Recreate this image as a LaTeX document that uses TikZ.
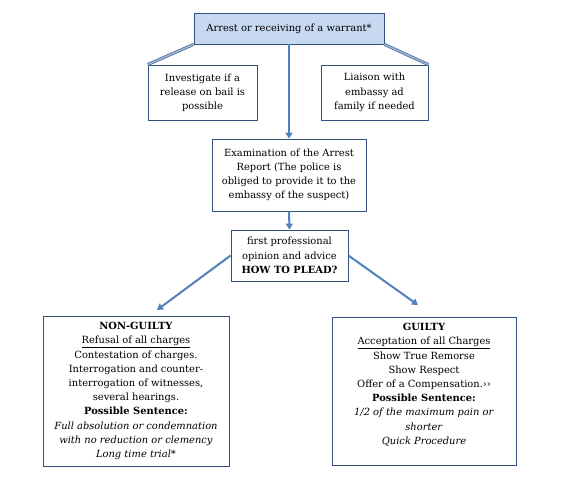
\documentclass[tikz,border=0pt]{standalone}
\usepackage{fontspec}
\setmainfont{DejaVu Serif}
\usetikzlibrary{arrows.meta}
\definecolor{boxline}{RGB}{50,80,125}
\definecolor{arrowblue}{RGB}{79,129,189}
\definecolor{topfill}{RGB}{198,217,241}
\definecolor{barfill}{RGB}{150,180,220}

\tikzset{
  box/.style={draw=boxline, line width=0.8pt, align=center, inner sep=2pt,
    font=\fontsize{9.9}{14.2}\selectfont},
  flow/.style={draw=arrowblue, line width=2pt,
    -{Triangle[width=7pt,length=6pt]}},
  bar/.style={draw=boxline!85, line width=0.7pt, double=barfill, double distance=1.6pt}
}

\begin{document}
\begin{tikzpicture}[x=1pt,y=-1pt]
    \useasboundingbox (0,0) rectangle (563,479);
    \fill[white] (0,0) rectangle (563,479);
    \node[box, fill=topfill, minimum width=190pt, minimum height=31pt] (arrest) at (289,28.5)
      {Arrest or receiving of a warrant*};
    \node[box, minimum width=109pt, minimum height=55pt] (bail) at (202.5,92.5)
      {Investigate if a\\release on bail is\\possible};
    \node[box, minimum width=107pt, minimum height=55pt] (embassy) at (374.5,92.5)
      {Liaison with\\embassy ad\\family if needed};
    \node[box, minimum width=154pt, minimum height=72pt] (report) at (289,175)
      {Examination of the Arrest\\Report (The police is\\obliged to provide it to the\\embassy of the suspect)};
    \node[box, minimum width=117pt, minimum height=51pt] (advice) at (289.5,255.5)
      {first professional\\opinion and advice\\\textbf{HOW TO PLEAD?}};
    \node[box, minimum width=186pt, minimum height=150pt] (nonguilty) at (136,391)
      {\textbf{NON-GUILTY}\\\underline{Refusal of all charges}\\Contestation of charges.\\
       Interrogation and counter-\\interrogation of witnesses,\\several hearings.\\
       \textbf{Possible Sentence:}\\\textit{Full absolution or condemnation}\\
       \textit{with no reduction or clemency}\\\textit{Long time trial*}};
    \node[box, minimum width=184pt, minimum height=148pt] (guilty) at (424,391)
      {\textbf{GUILTY}\\\underline{Acceptation of all Charges}\\Show True Remorse\\Show Respect\\
       Offer of a Compensation.››\\\textbf{Possible Sentence:}\\
       \textit{1/2 of the maximum pain or}\\\textit{shorter}\\\textit{Quick Procedure}\\~};
    \coordinate (nonin) at (157,310);
    \coordinate (guiltyin) at (418,305);
    % connectors
    \draw[bar] (arrest.south west) -- (bail.north west);
    \draw[bar] (arrest.south east) -- (embassy.north east);
    \draw[flow] (arrest.south) -- (report.north);
    \draw[flow] (report.south) -- (advice.north);
    \draw[flow] (advice.west) -- (nonin);
    \draw[flow] (advice.east) -- (guiltyin);
\end{tikzpicture}
\end{document}
